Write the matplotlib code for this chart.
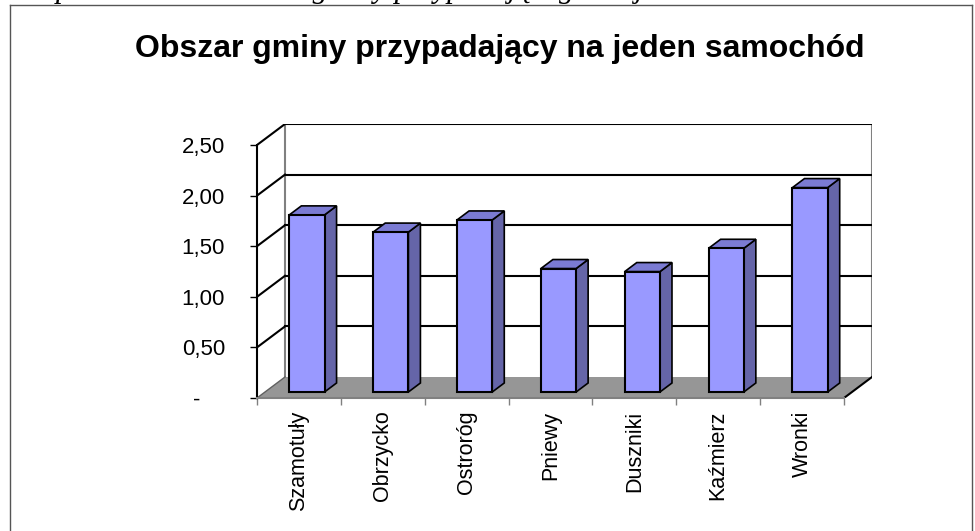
import matplotlib
matplotlib.use("Agg")
import matplotlib.pyplot as plt
from matplotlib.patches import Rectangle, Polygon
from matplotlib.lines import Line2D

# data
gminy = ["Szamotuły", "Obrzycko", "Ostroróg", "Pniewy", "Duszniki", "Kaźmierz", "Wronki"]
obszar = [1.75, 1.58, 1.70, 1.22, 1.19, 1.42, 2.02]
yticks = [0, 0.5, 1.0, 1.5, 2.0, 2.5]
ylabels = ["-    ", "0,50", "1,00", "1,50", "2,00", "2,50"]

plt.rcParams['font.family'] = ['Liberation Sans', 'DejaVu Sans']

W, H = 975, 531
fig = plt.figure(figsize=(W / 100, H / 100), dpi=100)

# fake 3d: depth offset of the back wall in data units
n = len(gminy)
ymax = yticks[-1]
DX, DY = 0.334, 0.2075
bw, f0, dep = 0.42, 0.285, 0.43   # bar width, bar start depth, bar depth

ax = fig.add_axes([257 / W, (H - 398) / H, 615 / W, 274 / H])
ax.set_xlim(0, n + DX)
ax.set_ylim(0, ymax + DY)
ax.patch.set_alpha(0)

# back wall
ax.add_patch(Rectangle((DX, DY), n, ymax, fc="white", ec="none", zorder=0))
ax.plot([DX, DX], [DY, ymax + DY], color="#808080", lw=1.5, zorder=1)
ax.plot([n + DX, n + DX], [DY, ymax + DY], color="#808080", lw=1.5, zorder=1)
for v in yticks[1:]:
    ax.plot([DX, n + DX], [v + DY, v + DY], color="black", lw=1.5, zorder=1)
    ax.plot([0, DX], [v, v + DY], color="black", lw=1.5, zorder=1)

# floor
ax.add_patch(Polygon([(0, 0), (DX, DY), (n + DX, DY), (n, 0)], closed=True,
                     fc="#969696", ec="none", zorder=1))
ax.plot([0, DX], [0, DY], color="#606060", lw=1, zorder=2)
ax.plot([n, n + DX], [0, DY], color="black", lw=1.5, zorder=2)

# bars
for i, v in enumerate(obszar):
    x0 = i + 0.5 - bw / 2 + f0 * DX
    y0 = f0 * DY
    ddx, ddy = dep * DX, dep * DY
    side = [(x0 + bw, y0), (x0 + bw + ddx, y0 + ddy), (x0 + bw + ddx, y0 + v + ddy), (x0 + bw, y0 + v)]
    top = [(x0, y0 + v), (x0 + ddx, y0 + v + ddy), (x0 + bw + ddx, y0 + v + ddy), (x0 + bw, y0 + v)]
    ax.add_patch(Polygon(side, closed=True, fc="#6565a8", ec="black", lw=1.2, zorder=3))
    ax.add_patch(Polygon(top, closed=True, fc="#7b7bd3", ec="black", lw=1.2, zorder=3))
    ax.add_patch(Rectangle((x0, y0), bw, v, fc="#9999ff", ec="black", lw=1.5, zorder=4))

# axes
for s in ["top", "right"]:
    ax.spines[s].set_visible(False)
ax.spines["left"].set_bounds(0, ymax)
ax.spines["left"].set_linewidth(1.5)
ax.spines["bottom"].set_bounds(0, n)
ax.spines["bottom"].set_color("#808080")
ax.spines["bottom"].set_linewidth(1.5)

ax.set_yticks(yticks)
ax.set_yticklabels(ylabels, fontsize=16)
ax.tick_params(axis="y", direction="out", length=5, width=1, pad=18)

ax.set_xticks(range(n + 1))
ax.set_xticklabels([])
ax.set_xticks([i + 0.5 for i in range(n)], minor=True)
ax.set_xticklabels(gminy, minor=True, rotation=90, fontsize=15.5, va="top")
ax.tick_params(axis="x", which="major", direction="out", length=5, width=1, color="#808080")
ax.tick_params(axis="x", which="minor", length=0, pad=9)

# title and the cut line of document text above the chart
fig.text(500 / W, 1 - 57 / H, "Obszar gminy przypadający na jeden samochód",
         fontsize=23, fontweight="bold", ha="center", va="baseline")
fig.text(56 / W, 1 + 3 / H, "porównanie obszaru gminy przypadającego na jeden samochód",
         family="Liberation Serif", style="italic", fontsize=22, ha="left", va="baseline")

# chart frame
fig.add_artist(Line2D([10 / W, 10 / W], [0, 1 - 4.5 / H], color="#555555", lw=1))
fig.add_artist(Line2D([10 / W, 972 / W], [1 - 4.5 / H, 1 - 4.5 / H], color="#555555", lw=1))
fig.add_artist(Line2D([972 / W, 972 / W], [0, 1 - 4.5 / H], color="#555555", lw=1))

fig.savefig("out.png", dpi=100)
